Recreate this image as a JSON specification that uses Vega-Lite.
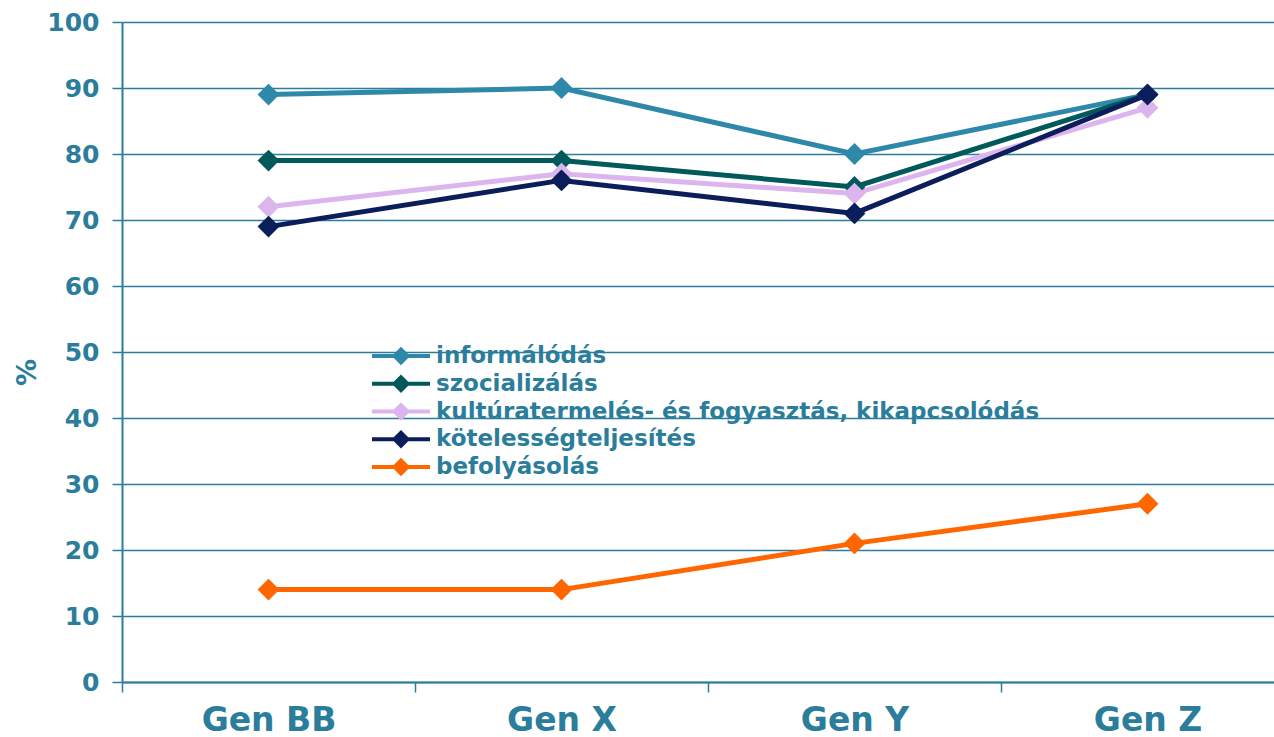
{
  "$schema": "https://vega.github.io/schema/vega-lite/v6.json",
  "width": 1152,
  "height": 660,
  "autosize": {"type": "none"},
  "padding": {"left": 122, "top": 22, "right": 0, "bottom": 55},
  "background": "white",
  "config": {"view": {"stroke": null}},
  "data": {"values": [
    {"gen": "Gen BB", "kat": "informálódás", "v": 89},
    {"gen": "Gen X", "kat": "informálódás", "v": 90},
    {"gen": "Gen Y", "kat": "informálódás", "v": 80},
    {"gen": "Gen Z", "kat": "informálódás", "v": 89},
    {"gen": "Gen BB", "kat": "szocializálás", "v": 79},
    {"gen": "Gen X", "kat": "szocializálás", "v": 79},
    {"gen": "Gen Y", "kat": "szocializálás", "v": 75},
    {"gen": "Gen Z", "kat": "szocializálás", "v": 89},
    {"gen": "Gen BB", "kat": "kultúratermelés- és fogyasztás, kikapcsolódás", "v": 72},
    {"gen": "Gen X", "kat": "kultúratermelés- és fogyasztás, kikapcsolódás", "v": 77},
    {"gen": "Gen Y", "kat": "kultúratermelés- és fogyasztás, kikapcsolódás", "v": 74},
    {"gen": "Gen Z", "kat": "kultúratermelés- és fogyasztás, kikapcsolódás", "v": 87},
    {"gen": "Gen BB", "kat": "kötelességteljesítés", "v": 69},
    {"gen": "Gen X", "kat": "kötelességteljesítés", "v": 76},
    {"gen": "Gen Y", "kat": "kötelességteljesítés", "v": 71},
    {"gen": "Gen Z", "kat": "kötelességteljesítés", "v": 89},
    {"gen": "Gen BB", "kat": "befolyásolás", "v": 14},
    {"gen": "Gen X", "kat": "befolyásolás", "v": 14},
    {"gen": "Gen Y", "kat": "befolyásolás", "v": 21},
    {"gen": "Gen Z", "kat": "befolyásolás", "v": 27}
  ]},
  "mark": {"type": "line", "strokeWidth": 5, "point": {"shape": "diamond", "size": 480, "filled": true, "opacity": 1}},
  "encoding": {
    "x": {
      "field": "gen", "type": "nominal", "sort": null,
      "scale": {"type": "point", "range": [0, 1172], "padding": 0.5},
      "axis": {
        "title": null, "labelAngle": 0,
        "labelFont": "DejaVu Sans", "labelFontWeight": "bold", "labelFontSize": 33, "labelColor": "#2b7d9c",
        "labelPadding": 12, "labelBaseline": "top",
        "tickOffset": -146.5, "labelOffset": 146.5,
        "domainColor": "#2b7d9c", "domainWidth": 2, "tickColor": "#2b7d9c", "tickWidth": 1.5, "tickSize": 10,
        "grid": false
      }
    },
    "y": {
      "field": "v", "type": "quantitative",
      "scale": {"domain": [0, 100], "nice": false},
      "axis": {
        "title": "%", "titleFont": "DejaVu Sans", "titleFontWeight": "bold", "titleFontSize": 27, "titleColor": "#2b7d9c",
        "titleX": -95, "titleY": 350, "titleAngle": -90, "titleAlign": "center", "titleBaseline": "middle",
        "values": [0, 10, 20, 30, 40, 50, 60, 70, 80, 90, 100],
        "labelFont": "DejaVu Sans", "labelFontWeight": "bold", "labelFontSize": 25, "labelColor": "#2b7d9c",
        "labelPadding": 13,
        "domainColor": "#2b7d9c", "domainWidth": 2, "tickColor": "#2b7d9c", "tickWidth": 1.5, "tickSize": 10,
        "grid": true, "gridColor": "#2b7d9c", "gridWidth": 1.5, "gridOpacity": 1
      }
    },
    "color": {
      "field": "kat", "type": "nominal",
      "scale": {
        "domain": ["informálódás", "szocializálás", "kultúratermelés- és fogyasztás, kikapcsolódás", "kötelességteljesítés", "befolyásolás"],
        "range": ["#2e88aa", "#02595c", "#dcb5ee", "#0b1d5a", "#ff6600"]
      },
      "legend": {
        "title": null, "orient": "none", "legendX": 248, "legendY": 322,
        "symbolType": "M-1,0H1M-0.22,0L0,-0.22L0.22,0L0,0.22Z",
        "symbolSize": 3364, "symbolStrokeWidth": 4,
        "clipHeight": 24,
        "labelFont": "DejaVu Sans", "labelFontWeight": "bold", "labelFontSize": 23, "labelColor": "#2b7d9c",
        "labelOffset": 4, "rowPadding": 3.75, "labelLimit": 0,
        "encode": {"symbols": {"update": {"fill": {"scale": "color", "field": "value"}, "fillOpacity": {"value": 1}, "opacity": {"value": 1}}}}
      }
    }
  }
}
